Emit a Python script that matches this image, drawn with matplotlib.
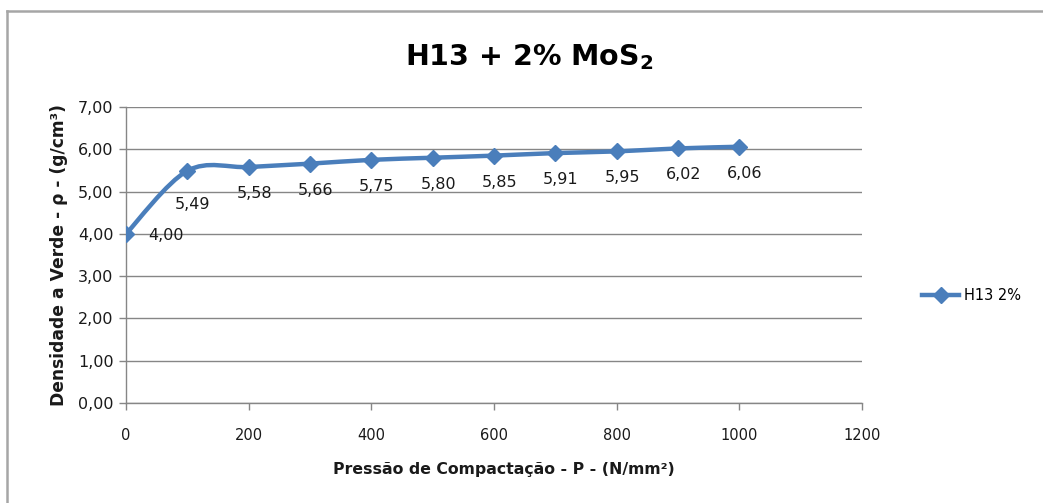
import numpy as np
import matplotlib
matplotlib.use('Agg')
import matplotlib.pyplot as plt
from matplotlib.path import Path
from matplotlib.patches import PathPatch
from matplotlib.lines import Line2D

# data
pressao = [0, 100, 200, 300, 400, 500, 600, 700, 800, 900, 1000]
densidade = [4.00, 5.49, 5.58, 5.66, 5.75, 5.80, 5.85, 5.91, 5.95, 6.02, 6.06]
rotulos = ['4,00', '5,49', '5,58', '5,66', '5,75', '5,80', '5,85', '5,91', '5,95', '6,02', '6,06']
serie = 'H13 2%'
y_ticks = [0, 1, 2, 3, 4, 5, 6, 7]
x_ticks = [0, 200, 400, 600, 800, 1000, 1200]

plt.rcParams['font.family'] = ['DejaVu Sans']
cor = '#4A7EBB'

fig = plt.figure(figsize=(10.43, 5.03), dpi=100)
ax = fig.add_axes([0.1208, 0.1988, 0.7057, 0.5885])

# linha suavizada (estilo Excel) - curva bezier pelos pontos
pts = np.column_stack([pressao, densidade])
verts = [pts[0]]
codes = [Path.MOVETO]
n = len(pts)
for i in range(n - 1):
    p0 = pts[i - 1] if i > 0 else pts[i]
    p1 = pts[i]
    p2 = pts[i + 1]
    p3 = pts[i + 2] if i + 2 < n else pts[i + 1]
    c1 = p1 + (p2 - p0) / 6.0
    c2 = p2 - (p3 - p1) / 6.0
    verts += [c1, c2, p2]
    codes += [Path.CURVE4] * 3
ax.add_patch(PathPatch(Path(verts, codes), facecolor='none', edgecolor=cor,
                       lw=3.2, capstyle='round', joinstyle='round', zorder=3))
ax.plot(pressao, densidade, ls='none', marker='D', ms=8, color=cor, zorder=4)

# rotulos de dados
for i, (x, y, t) in enumerate(zip(pressao, densidade, rotulos)):
    if i == 0:
        ax.annotate(t, (x, y), xytext=(16, -1), textcoords='offset points',
                    ha='left', va='center', fontsize=11.5, color='#1a1a1a')
    else:
        dy = -24 if i == 1 else -19
        ax.annotate(t, (x, y), xytext=(4, dy), textcoords='offset points',
                    ha='center', va='center', fontsize=11.5, color='#1a1a1a')

ax.set_xlim(0, 1200)
ax.set_ylim(0, 7)
ax.set_xticks(x_ticks)
ax.set_yticks(y_ticks)
ax.set_yticklabels([f'{v:.2f}'.replace('.', ',') for v in y_ticks])
ax.tick_params(axis='both', direction='out', length=5, color='#868686', width=1,
               labelcolor='#1a1a1a')
ax.tick_params(axis='x', pad=13, labelsize=10.5)
ax.tick_params(axis='y', pad=4, labelsize=11.5)
ax.grid(axis='y', color='#868686', lw=1)
ax.set_axisbelow(True)
for s in ['top', 'right']:
    ax.spines[s].set_visible(False)
for s in ['left', 'bottom']:
    ax.spines[s].set_color('#868686')
    ax.spines[s].set_linewidth(1)

ax.set_xlabel('Pressão de Compactação - P - (N/mm²)', fontsize=11.3, fontweight='bold',
              color='#1a1a1a', va='center')
ax.xaxis.set_label_coords(0.513, -0.226)
ax.set_ylabel('Densidade a Verde - ρ - (g/cm³)', fontsize=12.3, fontweight='bold',
              labelpad=7, color='#1a1a1a')

fig.text(0.507, 0.886, r'H13 + 2% MoS$_\mathbf{2}$', ha='center', va='center',
         fontsize=20.5, fontweight='bold')

handle = Line2D([], [], color=cor, lw=3.2, marker='D', ms=8)
fig.legend([handle], [serie], loc='center left', bbox_to_anchor=(0.871, 0.412),
           frameon=False, fontsize=10.5, handlelength=2.6, handletextpad=0.3)

# moldura do grafico
fig.add_artist(Line2D([7 / 1043, 7 / 1043], [0, 1 - 11 / 503], transform=fig.transFigure,
                      color='#A6A6A6', lw=1.8))
fig.add_artist(Line2D([7 / 1043, 1], [1 - 11 / 503, 1 - 11 / 503], transform=fig.transFigure,
                      color='#A6A6A6', lw=1.8))

fig.savefig('out.png', dpi=100)
